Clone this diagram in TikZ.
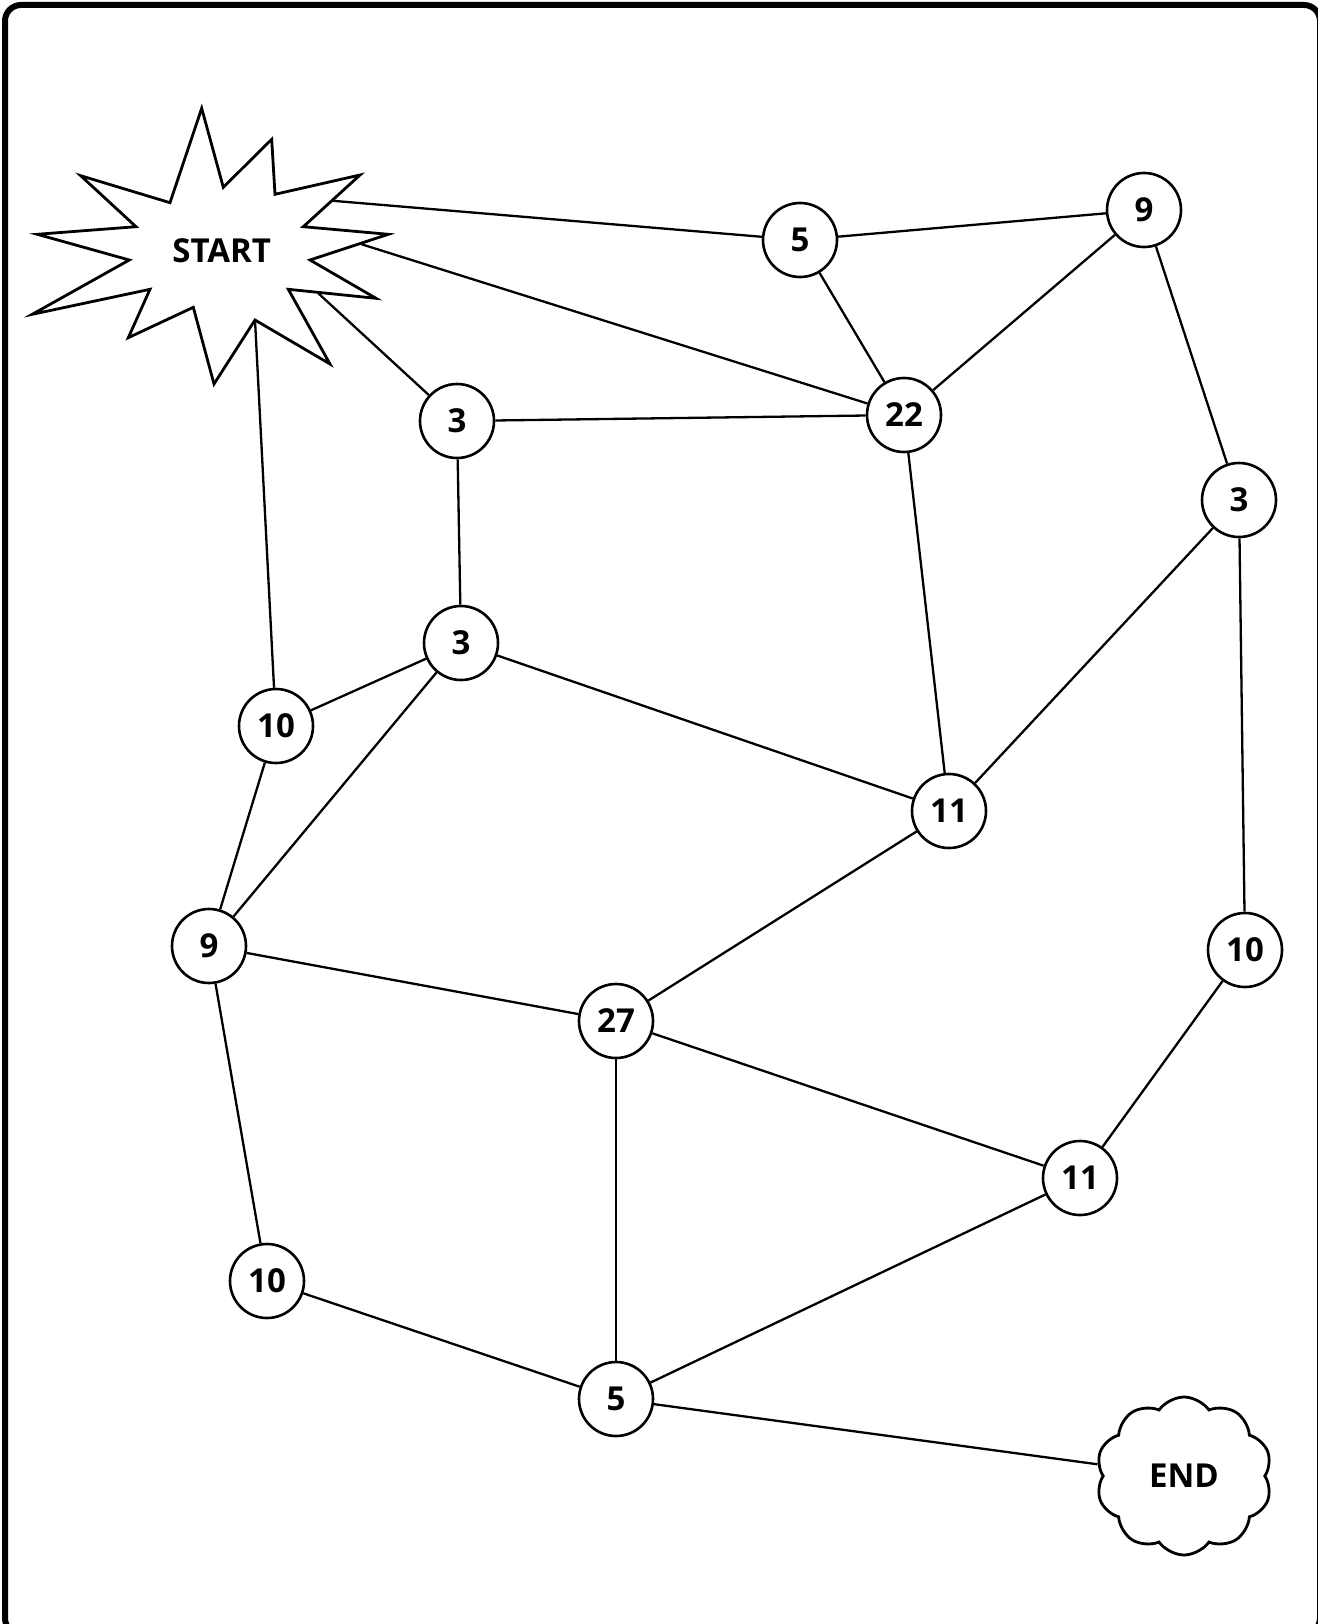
\documentclass[tikz,border=0pt]{standalone}
\usepackage{fontspec}
\setmainfont{Open Sans}
\usetikzlibrary{shapes.symbols}

\begin{document}
\begin{tikzpicture}[
  x=1pt, y=-1pt,
  every node/.style={font=\fontsize{33}{38}\selectfont\bfseries},
  spot/.style={draw, circle, line width=2.6pt, minimum size=74pt, inner sep=0pt},
  link/.style={line width=2.3pt},
  burst/.style={line width=2.8pt, line join=miter},
  goal/.style={draw, cloud, cloud puffs=10, cloud puff arc=110, cloud ignores aspect,
    line width=2.8pt, minimum width=176pt, minimum height=158pt, inner sep=0pt}
]
\useasboundingbox (0,0) rectangle (1317,1624);
\draw[line width=6pt, rounded corners=16pt] (5,5) rectangle (1320,1634);

\draw[burst] (201.7,108.3) -- (223.3,187.3) -- (271.7,139.3) -- (275,194.3)
  -- (360,175) -- (303.3,226.7) -- (388.3,234.3) -- (310,260) -- (376,298.3)
  -- (288.3,289.3) -- (330,364) -- (255,320) -- (214,384) -- (193.3,307.3)
  -- (128.3,337.7) -- (150,289.3) -- (32.3,314.3) -- (129.3,260) -- (37.3,234.3)
  -- (136,226.7) -- (80.7,175.7) -- (170,202.7) -- cycle;
\node (start) at (221.7,250.7) {START};
\coordinate (s1) at (331.7,200.7);
\coordinate (s2) at (361.7,244.3);
\coordinate (s3) at (318.3,293.3);
\coordinate (s4) at (255,320);

\node[spot] (five1)    at (800,240)   {5};
\node[spot] (nine1)    at (1144,210)  {9};
\node[spot] (twotwo)   at (904,415)   {22};
\node[spot] (three1)   at (457,421)   {3};
\node[spot] (three2)   at (1239,500)  {3};
\node[spot] (three3)   at (461,643)   {3};
\node[spot] (ten1)     at (276,726)   {10};
\node[spot] (eleven1)  at (949,811)   {11};
\node[spot] (nine2)    at (209,946)   {9};
\node[spot] (ten2)     at (1245,950)  {10};
\node[spot] (twoseven) at (616,1021)  {27};
\node[spot] (eleven2)  at (1080,1178) {11};
\node[spot] (ten3)     at (267,1281)  {10};
\node[spot] (five2)    at (616,1399)  {5};
\node[goal] (finish)   at (1184,1476) {END};

\draw[link] (s1) -- (five1);
\draw[link] (s2) -- (twotwo);
\draw[link] (s3) -- (three1);
\draw[link] (s4) -- (ten1);

\draw[link] (five1) -- (nine1);
\draw[link] (five1) -- (twotwo);
\draw[link] (nine1) -- (twotwo);
\draw[link] (nine1) -- (three2);
\draw[link] (three1) -- (twotwo);
\draw[link] (three1) -- (three3);
\draw[link] (twotwo) -- (eleven1);
\draw[link] (three2) -- (eleven1);
\draw[link] (three2) -- (ten2);
\draw[link] (three3) -- (ten1);
\draw[link] (three3) -- (nine2);
\draw[link] (three3) -- (eleven1);
\draw[link] (ten1) -- (nine2);
\draw[link] (eleven1) -- (twoseven);
\draw[link] (nine2) -- (twoseven);
\draw[link] (nine2) -- (ten3);
\draw[link] (twoseven) -- (eleven2);
\draw[link] (twoseven) -- (five2);
\draw[link] (ten2) -- (eleven2);
\draw[link] (eleven2) -- (five2);
\draw[link] (ten3) -- (five2);
\draw[link] (five2) -- (finish);

\end{tikzpicture}
\end{document}
